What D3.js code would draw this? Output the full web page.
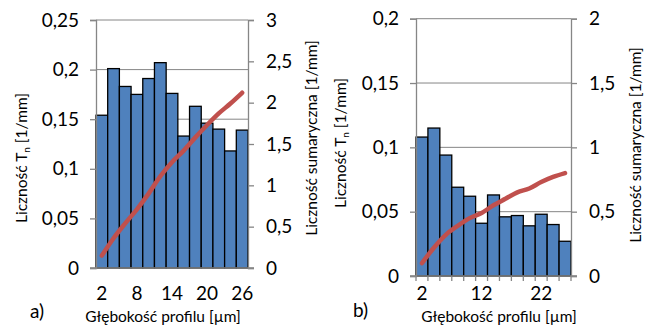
<!DOCTYPE html>
<html>
<head>
<meta charset="utf-8">
<script src="https://cdn.jsdelivr.net/npm/d3@7"></script>
<style>
  body { margin: 0; background: #fff; }
  svg text { font-family: Lato, "Open Sans", sans-serif; fill: #000; }
  .tick-lbl { font-size: 19px; }
  .title { font-size: 15.5px; }
</style>
</head>
<body>
<svg id="chart" width="649" height="327"></svg>
<script>
// depth classes [µm]
const depthA = [2, 4, 6, 8, 10, 12, 14, 16, 18, 20, 22, 24, 26];
const depthB = [2, 4, 6, 8, 10, 12, 14, 16, 18, 20, 22, 24, 26];

// Tn per class [1/mm]
const countA = [0.154, 0.201, 0.183, 0.175, 0.191, 0.207, 0.176, 0.133, 0.163, 0.146, 0.140, 0.118, 0.139];
const countB = [0.108, 0.115, 0.094, 0.069, 0.062, 0.041, 0.063, 0.046, 0.047, 0.039, 0.048, 0.040, 0.027];

// cumulative count [1/mm] (red line, right axis)
const cumulA = [0.15, 0.36, 0.54, 0.71, 0.90, 1.11, 1.28, 1.42, 1.58, 1.73, 1.87, 1.99, 2.12];
const cumulB = [0.10, 0.22, 0.32, 0.39, 0.45, 0.49, 0.55, 0.60, 0.65, 0.68, 0.73, 0.77, 0.80];

// tick labels
const leftTicksA = [0, 0.05, 0.1, 0.15, 0.2, 0.25];
const rightTicksA = [0, 0.5, 1, 1.5, 2, 2.5, 3];
const xTicksA = [2, 8, 14, 20, 26];
const leftTicksB = [0, 0.05, 0.1, 0.15, 0.2];
const rightTicksB = [0, 0.5, 1, 1.5, 2];
const xTicksB = [2, 12, 22];

const pl = d3.formatLocale({decimal: ",", thousands: " ", grouping: [3], currency: ["", ""]});
const fmt = pl.format("~g");

const svg = d3.select('#chart');
const gridColor = '#868686';

function drawPanel(p) {
    const g = svg.append('g');
    const x = d3.scaleBand().domain(p.depth).range([p.left, p.right]).padding(0);
    const y = d3.scaleLinear().domain([0, d3.max(p.leftTicks)]).range([p.bottom, p.top]);
    const y2 = d3.scaleLinear().domain([0, d3.max(p.rightTicks)]).range([p.bottom, p.top]);

    // gridlines
    g.selectAll('.grid').data(p.leftTicks).enter().append('line')
        .attr('x1', p.left).attr('x2', p.right)
        .attr('y1', d => y(d)).attr('y2', d => y(d))
        .attr('stroke', gridColor).attr('stroke-width', 1);

    // bars
    const bars = p.depth.map((d, i) => ({depth: d, value: p.count[i]}));
    g.selectAll('.bar').data(bars).enter().append('rect')
        .attr('x', d => x(d.depth))
        .attr('y', d => y(d.value))
        .attr('width', x.bandwidth())
        .attr('height', d => p.bottom - y(d.value))
        .attr('fill', '#4f81bd')
        .attr('stroke', '#000')
        .attr('stroke-width', 1.3);

    // left axis
    const la = g.append('g').attr('transform', `translate(${p.left},0)`)
        .call(d3.axisLeft(y).tickValues(p.leftTicks).tickSize(6).tickPadding(11).tickFormat(fmt));
    // right axis
    const ra = g.append('g').attr('transform', `translate(${p.right},0)`)
        .call(d3.axisRight(y2).tickValues(p.rightTicks).tickSize(6).tickPadding(12).tickFormat(fmt));
    // bottom axis
    const ba = g.append('g').attr('transform', `translate(0,${p.bottom})`)
        .call(d3.axisBottom(x).tickValues(p.xTicks).tickSize(0).tickPadding(p.xPad).tickFormat(d => d));
    [la, ra, ba].forEach(a => {
        a.attr('font-size', null).attr('font-family', null);
        a.select('.domain').attr('stroke', gridColor).attr('stroke-width', 1.3);
        a.selectAll('.tick line').attr('stroke', gridColor).attr('stroke-width', 1.3);
        a.selectAll('.tick text').attr('class', 'tick-lbl');
    });
    ba.select('.domain').attr('d', `M${p.left - 6},0H${p.right + 6}`);

    // category separator ticks on x axis (panel b only)
    if (p.catTicks) {
        const edges = p.depth.map(d => x(d)).concat([p.right]);
        g.selectAll('.ctick').data(edges).enter().append('line')
            .attr('x1', d => d).attr('x2', d => d)
            .attr('y1', p.bottom).attr('y2', p.bottom + 5)
            .attr('stroke', gridColor).attr('stroke-width', 1.3);
    }

    // cumulative line
    const line = d3.line()
        .x((d, i) => x(p.depth[i]) + x.bandwidth() / 2)
        .y(d => y2(d))
        .curve(d3.curveMonotoneX);
    g.append('path').datum(p.cumul)
        .attr('d', line)
        .attr('fill', 'none')
        .attr('stroke', '#c0504d')
        .attr('stroke-width', 4.5)
        .attr('stroke-linecap', 'round');

    // titles
    const lt = g.append('text').attr('class', 'title')
        .attr('transform', `translate(${p.ltX},${p.ltY}) rotate(-90)`)
        .attr('text-anchor', 'middle');
    lt.append('tspan').text('Liczność T');
    lt.append('tspan').attr('font-size', '10px').attr('dy', 3).text('n');
    lt.append('tspan').attr('dy', -3).text(' [1/mm]');

    g.append('text').attr('class', 'title')
        .attr('transform', `translate(${p.rtX},${p.rtY}) rotate(-90)`)
        .attr('text-anchor', 'middle')
        .text('Liczność sumaryczna [1/mm]');

    g.append('text').attr('class', 'title')
        .attr('x', p.xtX).attr('y', p.xtY)
        .attr('text-anchor', 'middle')
        .text('Głębokość profilu [µm]');

    g.append('text').attr('class', 'tick-lbl')
        .attr('x', p.tagX).attr('y', p.tagY)
        .text(p.tag);
}

drawPanel({
    depth: depthA, count: countA, cumul: cumulA,
    leftTicks: leftTicksA, rightTicks: rightTicksA, xTicks: xTicksA,
    left: 96, right: 248, top: 20, bottom: 268, xPad: 19, catTicks: false,
    ltX: 27, ltY: 158, rtX: 317, rtY: 138, xtX: 163, xtY: 322,
    tag: 'a)', tagX: 30, tagY: 318
});

drawPanel({
    depth: depthB, count: countB, cumul: cumulB,
    leftTicks: leftTicksB, rightTicks: rightTicksB, xTicks: xTicksB,
    left: 416, right: 571, top: 18.7, bottom: 276, xPad: 11, catTicks: true,
    ltX: 346, ltY: 143, rtX: 641, rtY: 145, xtX: 499, xtY: 322,
    tag: 'b)', tagX: 353, tagY: 317
});
</script>
</body>
</html>
